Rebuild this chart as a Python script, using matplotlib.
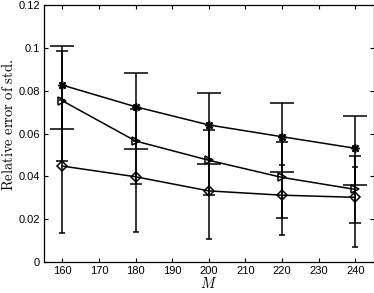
import matplotlib
matplotlib.use("Agg")
import matplotlib.pyplot as plt
import numpy as np

plt.rcParams['mathtext.fontset'] = 'cm'
plt.rcParams['font.family'] = ['Liberation Sans', 'DejaVu Sans']

M = np.array([160, 180, 200, 220, 240])

# star series
s1 = np.array([0.0826, 0.0725, 0.0640, 0.0585, 0.0531])
s1_lo = np.array([0.0621, 0.0526, 0.0456, 0.0419, 0.0359])
s1_hi = np.array([0.1008, 0.0881, 0.0788, 0.0741, 0.0683])

# triangle series
s2 = np.array([0.0753, 0.0565, 0.0475, 0.0395, 0.0339])
s2_lo = np.array([0.0473, 0.0364, 0.0313, 0.0207, 0.0183])
s2_hi = np.array([0.0985, 0.0713, 0.0616, 0.0562, 0.0495])

# diamond series
s3 = np.array([0.0448, 0.0398, 0.0332, 0.0312, 0.0302])
s3_lo = np.array([0.0137, 0.0139, 0.0106, 0.0126, 0.0071])
s3_hi = np.array([0.0755, 0.0565, 0.0480, 0.0453, 0.0442])

fig = plt.figure(figsize=(3.74, 2.93), dpi=100)
ax = fig.add_axes([44/374, 31/293, 329.5/374, 257/293])

series = [
    (s1, s1_lo, s1_hi, (8, 2, 0), 8.6, 6),
    (s2, s2_lo, s2_hi, '>', 4.3, 6),
    (s3, s3_lo, s3_hi, 'D', 2.2, 5),
]
for y, lo, hi, mk, cap, ms in series:
    ax.errorbar(M, y, yerr=[y - lo, hi - y], fmt='none', ecolor='k',
                elinewidth=1.1, capsize=cap, capthick=1.1, zorder=2)
    ax.plot(M, y, '-', color='k', lw=1.1, marker=mk, ms=ms,
            mfc='none', mec='k', mew=1.1, zorder=3)

ax.set_xlim(155, 245)
ax.set_ylim(0, 0.12)
ax.set_xticks(np.arange(160, 241, 10))
ax.set_yticks(np.arange(0, 0.121, 0.02))
ax.set_yticklabels(['0', '0.02', '0.04', '0.06', '0.08', '0.1', '0.12'])
ax.tick_params(direction='in', length=3, width=0.8, labelsize=8,
               top=True, right=True, pad=3)
for sp in ax.spines.values():
    sp.set_linewidth(0.9)

ax.set_xlabel('$M$', fontsize=10.5, labelpad=0)
ax.set_ylabel(r'$\mathrm{Relative\ error\ of\ std.}$', fontsize=10.5)
ax.yaxis.set_label_coords(-0.085, 0.535)

fig.savefig('out.png', dpi=100)
